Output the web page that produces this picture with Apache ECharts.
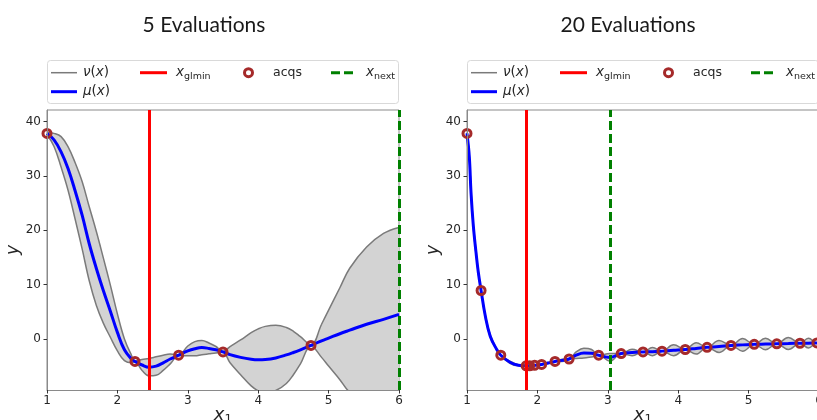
<!DOCTYPE html>
<html>
<head>
<meta charset="utf-8">
<script src="https://cdn.jsdelivr.net/npm/echarts@6/dist/echarts.min.js"></script>
<style>
  html, body { margin: 0; padding: 0; background: #ffffff; }
  #chart { width: 817px; height: 420px; }
</style>
</head>
<body>
<div id="chart"></div>
<script>
// ---------- panel 1: surrogate after 5 evaluations ----------
const x5     = [1.0, 1.1, 1.2, 1.3, 1.4, 1.5, 1.6, 1.7, 1.8, 1.9, 2.0, 2.1, 2.2, 2.25, 2.35, 2.45, 2.55, 2.65, 2.75, 2.87,
                3.0, 3.1, 3.2, 3.3, 3.4, 3.5, 3.6, 3.75, 3.9, 4.0, 4.1, 4.25, 4.4, 4.5, 4.6, 4.75, 4.9, 5.0, 5.16, 5.3, 5.54, 5.78, 6.0];
const mean5  = [37.8, 36.6, 34.4, 31.3, 27.2, 22.7, 17.5, 13.0, 8.9, 5.1, 1.2, -2.0, -3.7, -4.15, -4.8, -5.2, -5.0, -4.4, -3.7, -3.0,
                -2.2, -1.8, -1.6, -1.75, -2.0, -2.4, -2.9, -3.4, -3.75, -3.85, -3.8, -3.5, -2.95, -2.5, -2.0, -1.2, -0.35, 0.15, 0.95, 1.6, 2.7, 3.6, 4.5];
const upper5 = [38.0, 37.8, 37.2, 35.3, 32.4, 28.9, 24.3, 19.8, 14.9, 9.9, 4.6, 0.0, -3.0, -4.05, -3.8, -3.6, -3.3, -3.0, -2.8, -2.9,
                -1.3, -0.5, -0.3, -0.75, -1.4, -2.3, -1.4, -0.2, 1.15, 1.85, 2.3, 2.5, 2.1, 1.4, 0.4, -1.1, 2.7, 5.3, 9.4, 13.0, 16.9, 19.4, 20.5];
const lower5 = [37.6, 35.4, 31.6, 27.3, 22.0, 16.5, 10.7, 6.2, 2.9, 0.3, -2.2, -4.0, -4.4, -4.25, -5.8, -6.8, -6.7, -5.8, -4.6, -3.1,
                -3.1, -3.1, -2.9, -2.75, -2.6, -2.5, -4.4, -6.6, -8.65, -9.55, -9.9, -9.5, -8.2, -6.6, -4.6, -1.3, -3.4, -5.0, -7.5, -9.8, -11.5, -12.2, -11.5];
const acqX5  = [1.0, 2.25, 2.87, 3.5, 4.75];
const acqY5  = [37.8, -4.15, -3.0, -2.4, -1.2];
const xGlmin5 = 2.45;
const xNext5  = 6.0;

// ---------- panel 2: surrogate after 20 evaluations ----------
const x20     = [1.0, 1.033, 1.057, 1.09, 1.128, 1.161, 1.2, 1.26, 1.33, 1.42, 1.48, 1.61, 1.73, 1.84, 1.89, 1.96, 2.06, 2.15, 2.25, 2.35,
                 2.45, 2.55, 2.66, 2.77, 2.87, 3.03, 3.19, 3.345, 3.5, 3.635, 3.77, 3.935, 4.1, 4.255, 4.41, 4.58, 4.75, 4.915, 5.08, 5.24,
                 5.4, 5.565, 5.73, 5.85, 5.97, 6.0];
const mean20  = [37.8, 33.5, 26.9, 20.8, 15.9, 12.2, 8.9, 4.2, 0.5, -1.9, -3.0, -4.3, -4.85, -4.95, -4.95, -4.85, -4.7, -4.45, -4.15, -3.95,
                 -3.7, -3.0, -2.6, -2.65, -3.0, -3.4, -2.7, -2.5, -2.4, -2.35, -2.25, -2.1, -1.95, -1.75, -1.55, -1.4, -1.2, -1.1, -1.0, -0.95,
                 -0.9, -0.85, -0.8, -0.78, -0.75, -0.74];
const upper20 = [37.8, 33.7, 27.2, 21.1, 16.2, 12.4, 8.9, 4.35, 0.7, -1.8, -3.0, -4.1, -4.75, -4.95, -4.95, -4.85, -4.7, -4.35, -4.15, -3.75,
                 -3.7, -2.4, -1.7, -1.95, -3.0, -2.7, -2.7, -1.9, -2.4, -1.6, -2.25, -1.1, -1.95, -0.7, -1.55, -0.3, -1.2, 0.05, -1.0, 0.1,
                 -0.9, 0.25, -0.8, 0.1, -0.75, -0.64];
const lower20 = [37.8, 33.3, 26.6, 20.5, 15.6, 12.0, 8.9, 4.05, 0.3, -2.0, -3.0, -4.5, -4.95, -4.95, -4.95, -4.85, -4.7, -4.55, -4.15, -4.15,
                 -3.7, -3.6, -3.5, -3.35, -3.0, -4.1, -2.7, -3.1, -2.4, -3.1, -2.25, -3.1, -1.95, -2.8, -1.55, -2.5, -1.2, -2.25, -1.0, -2.0,
                 -0.9, -1.95, -0.8, -1.66, -0.75, -0.84];
const acqX20  = [1.0, 1.2, 1.48, 1.84, 1.89, 1.96, 2.06, 2.25, 2.45, 2.87, 3.19, 3.5, 3.77, 4.1, 4.41, 4.75, 5.08, 5.4, 5.73, 5.97];
const acqY20  = [37.8, 8.9, -3.0, -4.95, -4.95, -4.85, -4.7, -4.15, -3.7, -3.0, -2.7, -2.4, -2.25, -1.95, -1.55, -1.2, -1.0, -0.9, -0.8, -0.75];
const xGlmin20 = 1.84;
const xNext20  = 3.03;

// ---------- shared axes and text ----------
const xTicks = [1, 2, 3, 4, 5, 6];
const yTicks = [0, 10, 20, 30, 40];
const titles = ['5 Evaluations', '20 Evaluations'];

const C = {
  band: '#d3d3d3', edge: '#7a7a7a', mean: '#0000ff', acq: '#a52a2a',
  glmin: '#ff0000', next: '#008000', frame: '#8a8a8a', text: '#262626'
};
const FONT = 'DejaVu Sans';
const GRID_W = 352, GRID_H = 280, GRID_TOP = 110;
const PANEL_LEFT = [47, 467];

const pairs = (xs, ys) => xs.map((x, i) => [x, ys[i]]);

const panels = [
  { x: x5, mean: mean5, upper: upper5, lower: lower5, ax: acqX5, ay: acqY5, glmin: xGlmin5, next: xNext5 },
  { x: x20, mean: mean20, upper: upper20, lower: lower20, ax: acqX20, ay: acqY20, glmin: xGlmin20, next: xNext20 }
];

const grids = [], xAxes = [], yAxes = [], series = [], graphics = [];

panels.forEach((p, k) => {
  grids.push({
    left: PANEL_LEFT[k], top: GRID_TOP, width: GRID_W, height: GRID_H,
    outerBoundsMode: 'none', containLabel: false,
    show: true, borderColor: C.frame, borderWidth: 1, backgroundColor: 'transparent'
  });
  xAxes.push({
    gridIndex: k, type: 'value', min: 1, max: 6, z: 10,
    name: '{i|x}{s|1}', nameLocation: 'middle', nameGap: 15, nameMoveOverlap: false,
    nameTextStyle: {
      verticalAlign: 'top',
      rich: {
        i: { fontFamily: FONT, fontStyle: 'italic', fontSize: 18, color: C.text },
        s: { fontFamily: FONT, fontSize: 12, color: C.text, padding: [9, 0, 0, 0] }
      }
    },
    axisLine: { show: true, onZero: false, lineStyle: { color: C.frame, width: 1 } },
    axisTick: { show: true, length: 3.5, customValues: xTicks, lineStyle: { color: '#333' } },
    axisLabel: { customValues: xTicks, margin: 5, fontFamily: FONT, fontSize: 12, color: C.text },
    splitLine: { show: false }
  });
  yAxes.push({
    gridIndex: k, type: 'value', min: -9.4, max: 42.1, z: 10,
    name: 'y', nameLocation: 'middle', nameGap: 19, nameRotate: 90,
    nameTextStyle: { fontFamily: FONT, fontStyle: 'italic', fontSize: 17, color: C.text },
    axisLine: { show: true, onZero: false, lineStyle: { color: C.frame, width: 1 } },
    axisTick: { show: true, length: 3.5, customValues: yTicks, lineStyle: { color: '#333' } },
    axisLabel: { customValues: yTicks, margin: 6, fontFamily: FONT, fontSize: 12, color: C.text },
    splitLine: { show: false }
  });

  // confidence band: grey under the upper edge, white under the lower edge
  series.push({
    name: 'upper', type: 'line', xAxisIndex: k, yAxisIndex: k, data: pairs(p.x, p.upper),
    smooth: 0.4, symbol: 'none', z: 1,
    lineStyle: { color: C.edge, width: 1.5 },
    areaStyle: { color: C.band, opacity: 1, origin: 'start' }
  });
  series.push({
    name: 'lower', type: 'line', xAxisIndex: k, yAxisIndex: k, data: pairs(p.x, p.lower),
    smooth: 0.4, symbol: 'none', z: 1,
    lineStyle: { color: C.edge, width: 1.5 },
    areaStyle: { color: '#ffffff', opacity: 1, origin: 'start' }
  });
  // posterior mean
  series.push({
    name: 'mean', type: 'line', xAxisIndex: k, yAxisIndex: k, data: pairs(p.x, p.mean),
    smooth: 0.4, symbol: 'none', z: 3,
    lineStyle: { color: C.mean, width: 3 }
  });
  // evaluated points
  series.push({
    name: 'acqs', type: 'scatter', xAxisIndex: k, yAxisIndex: k, data: pairs(p.ax, p.ay),
    symbol: 'circle', symbolSize: 8, z: 4, clip: false,
    itemStyle: { color: 'rgba(0,0,0,0)', borderColor: C.acq, borderWidth: 3, opacity: 1 }
  });
  // current best location and next sample location
  series.push({
    name: 'markers', type: 'line', xAxisIndex: k, yAxisIndex: k, data: [], z: 5,
    markLine: {
      silent: true, symbol: ['none', 'none'], label: { show: false }, animation: false,
      data: [
        { xAxis: p.glmin, lineStyle: { color: C.glmin, width: 3, type: 'solid' } },
        { xAxis: p.next, lineStyle: { color: C.next, width: 3, type: [9, 4] } }
      ]
    }
  });

  // title and legend
  const ox = k * 420;
  graphics.push({
    type: 'text', x: [204, 628][k], y: 25,
    style: { text: titles[k], font: '21px Lato', fill: '#1a1a1a', align: 'center', verticalAlign: 'middle' }
  });
  const r1 = 72.7, r2 = 91.7;
  const rich = {
    i: { fontFamily: FONT, fontStyle: 'italic', fontSize: 13.5, fill: C.text },
    n: { fontFamily: FONT, fontSize: 13.5, fill: C.text },
    a: { fontFamily: FONT, fontSize: 12.5, fill: C.text },
    s: { fontFamily: FONT, fontSize: 9.5, fill: C.text, padding: [7, 0, 0, 0] }
  };
  const txt = (x, y, t) => ({
    type: 'text', x: x, y: y,
    style: { text: t, rich: rich, fontFamily: FONT, fontSize: 12.5, fill: C.text, align: 'left', verticalAlign: 'middle' }
  });
  graphics.push(
    { type: 'rect', shape: { x: ox + 47.5, y: 60.5, width: 351, height: 43, r: 3 },
      style: { fill: '#ffffff', stroke: '#d9d9d9', lineWidth: 1 } },
    { type: 'line', shape: { x1: ox + 51, y1: r1, x2: ox + 77, y2: r1 }, style: { stroke: C.edge, lineWidth: 1.5 } },
    txt(ox + 83, r1, '{i|ν}{n|(}{i|x}{n|)}'),
    { type: 'line', shape: { x1: ox + 140, y1: r1, x2: ox + 167, y2: r1 }, style: { stroke: C.glmin, lineWidth: 3 } },
    txt(ox + 176, r1, '{i|x}{s|glmin}'),
    { type: 'circle', shape: { cx: ox + 248.5, cy: r1, r: 4 }, style: { fill: 'none', stroke: C.acq, lineWidth: 3 } },
    txt(ox + 273, r1, '{a|acqs}'),
    { type: 'line', shape: { x1: ox + 331, y1: r1, x2: ox + 357, y2: r1 }, style: { stroke: C.next, lineWidth: 3, lineDash: [9, 4] } },
    txt(ox + 366, r1, '{i|x}{s|next}'),
    { type: 'line', shape: { x1: ox + 51, y1: r2, x2: ox + 77, y2: r2 }, style: { stroke: C.mean, lineWidth: 3 } },
    txt(ox + 83, r2, '{i|μ}{n|(}{i|x}{n|)}')
  );
});

const chart = echarts.init(document.getElementById('chart'), null, { renderer: 'canvas' });
chart.setOption({
  animation: false,
  backgroundColor: '#ffffff',
  grid: grids,
  xAxis: xAxes,
  yAxis: yAxes,
  series: series,
  graphic: { elements: graphics }
});
</script>
</body>
</html>
